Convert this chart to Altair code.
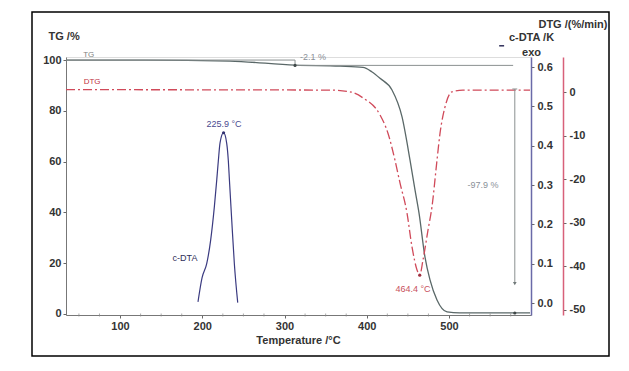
import altair as alt
import pandas as pd

# ---------------- data ----------------
tg_temp = [34.3, 130.0, 233.7, 312.8, 367.5, 395.4, 406.0, 416.1, 430.7, 442.9, 452.6,
           458.7, 463.5, 470.8, 476.9, 485.4, 497.6, 513.0, 598.5]
tg_val = [100.0, 100.0, 99.6, 98.0, 97.6, 97.1, 95.4, 92.8, 88.2, 77.6, 60.6,
          48.8, 39.8, 22.4, 13.4, 5.5, 0.8, 0.4, 0.4]

dtg_temp = [34.3, 355.3, 379.6, 395.4, 416.1, 425.8, 434.3, 440.4, 448.9, 455.0, 461.1,
            464.4, 468.4, 474.5, 479.3, 485.4, 489.1, 495.1, 503.6, 517.0, 598.5]
dtg_val = [0.6, 0.5, 0.1, -1.3, -5.2, -9.4, -15.6, -20.8, -27.7, -35.5, -40.8,
           -42.0, -38.5, -31.6, -26.3, -15.6, -9.4, -3.4, 0.1, 0.5, 0.5]

dta_temp = [194.8, 199.7, 205.4, 210.2, 214.7, 217.6, 219.5, 221.6, 225.9, 229.7,
            231.7, 233.0, 235.8, 239.0, 243.1]
dta_val = [0.003, 0.064, 0.10, 0.16, 0.245, 0.313, 0.361, 0.407, 0.433, 0.406,
           0.361, 0.313, 0.211, 0.10, 0.001]

# step / reference segments on the TG scale
ref_x1 = [34.3, 312.8, 312.8, 580.0, 577.0]
ref_x2 = [312.8, 312.8, 578.0, 580.0, 583.0]
ref_y1 = [100.0, 100.0, 97.9, 88.6, 88.6]
ref_y2 = [100.0, 97.9, 97.9, 12.0, 88.6]

tg_mark_temp = [312.8, 580.0]
tg_mark_val = [97.9, 0.4]
arrow_temp = [580.0]
arrow_val = [12.0]

tg_label_text = ["TG"]
tg_label_temp = [62.0]
tg_label_val = [102.0]
step_text = ["-2.1 %", "-97.9 %"]
step_temp = [334.7, 541.3]
step_val = [101.2, 50.8]

dtg_label_text = ["DTG"]
dtg_label_temp = [66.0]
dtg_label_val = [2.4]
dtg_peak_text = ["464.4 °C"]
dtg_peak_temp = [456.2]
dtg_peak_val = [-45.2]
dtg_min_temp = [464.4]
dtg_min_val = [-42.0]

dta_peak_text = ["225.9 °C"]
dta_peak_temp = [226.4]
dta_peak_val = [0.455]
dta_name_text = ["c-DTA"]
dta_name_temp = [179.0]
dta_name_val = [0.114]
dta_dash_x1 = [561.0]
dta_dash_x2 = [567.0]
dta_dash_val = [0.654]
dta_max_temp = [225.9]
dta_max_val = [0.433]

tg_ticks = [0, 20, 40, 60, 80, 100]
dta_ticks = [0.0, 0.1, 0.2, 0.3, 0.4, 0.5, 0.6]
dtg_ticks = [0, -10, -20, -30, -40, -50]
temp_ticks = [100, 200, 300, 400, 500]
temp_minor = [50, 75, 125, 150, 175, 225, 250, 275, 325, 350, 375, 425, 450, 475,
              525, 550, 575]

# ---------------- scales / axes ----------------
FONT = "Liberation Sans"
xscale = alt.Scale(domain=[34.3, 599.7], nice=False, zero=False)
tg_scale = alt.Scale(domain=[-0.4, 101.2], nice=False, zero=False)
dta_scale = alt.Scale(domain=[-0.0305, 0.6255], nice=False, zero=False)
dtg_scale = alt.Scale(domain=[-51.15, 8.1], nice=False, zero=False)

common = dict(grid=False, labelFont=FONT, labelFontWeight="bold", labelFontSize=11,
              labelColor="#333333", titleFont=FONT, titleFontWeight="bold",
              titleFontSize=11, titleColor="#333333", tickSize=3, tickColor="#666666")

x_axis = alt.Axis(orient="bottom", values=temp_ticks, format="d",
                  title="Temperature /°C",
                  titleX=232, titleY=25, titleBaseline="middle", titleAlign="center",
                  labelPadding=2, domainColor="#777777", domainWidth=1, **common)
tg_axis = alt.Axis(orient="left", values=tg_ticks, format="d", title="TG /%",
                   titleAngle=0, titleAlign="left", titleX=-18, titleY=-21,
                   titleBaseline="middle", labelPadding=2, domainColor="#777777",
                   domainWidth=1, **common)
dta_axis = alt.Axis(orient="right", offset=0, values=dta_ticks, format=".1f",
                    title=["c-DTA /K", "exo"], titleAngle=0, titleAlign="center",
                    titleX=0, titleY=-26, titleBaseline="top", titleLineHeight=15,
                    labelPadding=3, domainColor="#6a6aa8", domainWidth=1.5, **common)
dtg_axis = alt.Axis(orient="right", offset=32, values=dtg_ticks,
                    labelExpr="datum.value < 0 ? '-' + abs(datum.value) : '' + datum.value",
                    title="DTG /(%/min)", titleAngle=0, titleAlign="right",
                    titleX=44, titleY=-33, titleBaseline="middle",
                    labelPadding=3, domainColor="#d8607a", domainWidth=1.5, **common)


def xenc(field):
    return alt.X(field, type="quantitative", scale=xscale, axis=x_axis)


def text_layer(texts, xs, ys, scale, color, size=9, align="center", weight="normal"):
    df = pd.DataFrame({"t": xs, "v": ys, "s": texts})
    return alt.Chart(df).mark_text(font=FONT, fontSize=size, color=color, align=align,
                                   baseline="middle", fontWeight=weight).encode(
        x=xenc("t"),
        y=alt.Y("v:Q", scale=scale, axis=None),
        text="s:N")


def dots(xs, ys, scale, color, size=10):
    df = pd.DataFrame({"t": xs, "v": ys})
    return alt.Chart(df).mark_point(filled=True, size=size, color=color, opacity=1).encode(
        x=xenc("t"),
        y=alt.Y("v:Q", scale=scale, axis=None))


# ---------------- frame ----------------
border = alt.Chart(pd.DataFrame({"a": [0]})).mark_rect(
    fill="transparent", stroke="black", strokeWidth=1.5).encode(
    x=alt.value(-34), x2=alt.value(543), y=alt.value(-45), y2=alt.value(299))

minor = alt.Chart(pd.DataFrame({"t": temp_minor})).mark_tick(
    color="#888888", thickness=1, size=3).encode(
    x=xenc("t"), y=alt.value(258))

# ---------------- TG ----------------
tg_df = pd.DataFrame({"t": tg_temp, "v": tg_val})
tg_line = alt.Chart(tg_df).mark_line(color="#5a6868", strokeWidth=1.3,
                                     interpolate="monotone").encode(
    x=xenc("t"),
    y=alt.Y("v:Q", scale=tg_scale, axis=tg_axis))

ref_df = pd.DataFrame({"x1": ref_x1, "x2": ref_x2, "y1": ref_y1, "y2": ref_y2})
ref_rules = alt.Chart(ref_df).mark_rule(color="#8a9090", strokeWidth=1).encode(
    x=xenc("x1"), x2="x2:Q",
    y=alt.Y("y1:Q", scale=tg_scale, axis=None), y2="y2:Q")

arrow = alt.Chart(pd.DataFrame({"t": arrow_temp, "v": arrow_val})).mark_point(
    shape="triangle-down", filled=True, size=14, color="#707878", opacity=1).encode(
    x=xenc("t"),
    y=alt.Y("v:Q", scale=tg_scale, axis=None))

# ---------------- c-DTA ----------------
dta_df = pd.DataFrame({"t": dta_temp, "v": dta_val})
dta_line = alt.Chart(dta_df).mark_line(color="#3a3a80", strokeWidth=1.2,
                                       interpolate="monotone").encode(
    x=xenc("t"),
    y=alt.Y("v:Q", scale=dta_scale, axis=dta_axis))

dash_df = pd.DataFrame({"x1": dta_dash_x1, "x2": dta_dash_x2, "v": dta_dash_val})
dta_dash = alt.Chart(dash_df).mark_rule(color="#30305a", strokeWidth=1.5).encode(
    x=xenc("x1"), x2="x2:Q",
    y=alt.Y("v:Q", scale=dta_scale, axis=None))

# ---------------- DTG ----------------
dtg_df = pd.DataFrame({"t": dtg_temp, "v": dtg_val})
dtg_line = alt.Chart(dtg_df).mark_line(color="#d04a5a", strokeWidth=1.3,
                                       strokeDash=[9, 3, 2, 3],
                                       interpolate="monotone").encode(
    x=xenc("t"),
    y=alt.Y("v:Q", scale=dtg_scale, axis=dtg_axis))

layers = [
    tg_line, dta_line, dtg_line,
    border, minor, ref_rules,
    dots(tg_mark_temp, tg_mark_val, tg_scale, "#404848", 10),
    arrow,
    text_layer(tg_label_text, tg_label_temp, tg_label_val, tg_scale, "#808080", 8),
    text_layer(step_text, step_temp, step_val, tg_scale, "#8a9098", 9),
    dots(dta_max_temp, dta_max_val, dta_scale, "#303070", 10),
    text_layer(dta_peak_text, dta_peak_temp, dta_peak_val, dta_scale, "#4a4a90", 9),
    text_layer(dta_name_text, dta_name_temp, dta_name_val, dta_scale, "#30305a", 9),
    dta_dash,
    dots(dtg_min_temp, dtg_min_val, dtg_scale, "#a03040", 10),
    text_layer(dtg_label_text, dtg_label_temp, dtg_label_val, dtg_scale, "#c03040", 8),
    text_layer(dtg_peak_text, dtg_peak_temp, dtg_peak_val, dtg_scale, "#c85060", 9),
]

chart = alt.layer(*layers).resolve_scale(
    y="independent"
).properties(
    width=465, height=258,
    autosize=alt.AutoSizeParams(type="none"),
    padding={"left": 58, "top": 49, "right": 90, "bottom": 48},
).configure_view(strokeWidth=0).configure(background="white")

chart.save("out.html", embed_options={"renderer": "svg", "actions": False})
